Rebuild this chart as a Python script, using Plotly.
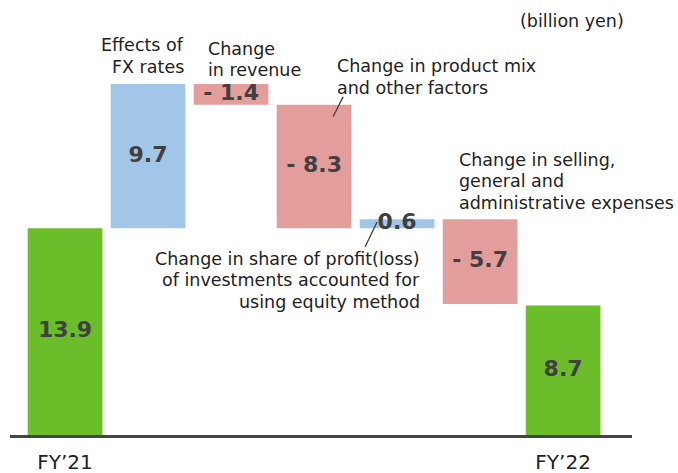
import numpy as np
import plotly.graph_objects as go

# ---- data -------------------------------------------------------------
steps = [
    "FY’21",
    "Effects of FX rates",
    "Change in revenue",
    "Change in product mix and other factors",
    "Change in share of profit(loss) of investments accounted for using equity method",
    "Change in selling, general and administrative expenses",
    "FY’22",
]
measures = ["absolute", "relative", "relative", "relative", "relative", "relative", "absolute"]
values = [13.9, 9.7, -1.4, -8.3, 0.6, -5.7, 8.7]
tick_labels = ["FY’21", "FY’22"]
unit_label = "(billion yen)"

# ---- derived geometry of each bar (bottom / top) ----------------------
bottoms, tops = [], []
running = 0.0
for m, v in zip(measures, values):
    if m == "absolute":
        lo, hi = 0.0, v
        running = v
    else:
        lo, hi = sorted([running, running + v])
        running += v
    bottoms.append(lo)
    tops.append(hi)
centers = (np.array(bottoms) + np.array(tops)) / 2


def fmt(m, v):
    if m == "relative" and v < 0:
        return f"- {abs(v):.1f}"
    return f"{v:.1f}"


labels = [fmt(m, v) for m, v in zip(measures, values)]
xs = list(range(len(values)))

GREEN = "#6bbd2a"
BLUE = "#a2c6e8"
PINK = "#e39e9c"
FONT = "DejaVu Sans"

fig = go.Figure()
fig.add_trace(go.Waterfall(
    x=xs, y=values, measure=measures, base=0, width=0.9,
    totals=dict(marker=dict(color=GREEN, line=dict(width=0))),
    increasing=dict(marker=dict(color=BLUE, line=dict(width=0))),
    decreasing=dict(marker=dict(color=PINK, line=dict(width=0))),
    connector=dict(visible=False),
    textinfo="none", hoverinfo="skip", showlegend=False,
))

# value labels at the middle of each bar
fig.add_trace(go.Scatter(
    x=xs, y=centers, mode="text", text=labels,
    textposition="middle center",
    textfont=dict(family=FONT, size=22, color="#404040", weight="bold"),
    hoverinfo="skip", showlegend=False,
))

# callout text, one annotation per line
callouts = [
    # (lines, x, y of first line, anchor)
    (["Effects of", "FX rates"], 1.46, 26.2, "right"),
    (["Change", "in revenue"], 1.695, 25.95, "left"),
    (["Change in product mix", "and other factors"], 3.253, 24.8, "left"),
    (["Change in selling,", "general and", "administrative expenses"], 4.727, 18.5, "left"),
    (["Change in share of profit(loss)", "of investments accounted for",
      "using equity method"], 4.30, 11.84, "right"),
]
LINE_STEP = 1.44  # vertical spacing between lines, in data units
annotations = []
for lines, x0, y0, anchor in callouts:
    for i, line in enumerate(lines):
        annotations.append(dict(
            x=x0, y=y0 - i * LINE_STEP, xref="x", yref="y", text=line,
            showarrow=False, xanchor=anchor, yanchor="middle",
            font=dict(family=FONT, size=17.5, color="#222222"),
        ))
annotations.append(dict(
    x=6.76, y=27.8, xref="x", yref="y", text=unit_label, showarrow=False,
    xanchor="right", yanchor="middle",
    font=dict(family=FONT, size=17.5, color="#222222"),
))

# leader lines from labels to bars
shapes = [
    dict(type="line", xref="x", yref="y", x0=3.614, y0=12.64, x1=3.759, y1=14.32,
         line=dict(color="#404040", width=1.3)),
    dict(type="line", xref="x", yref="y", x0=3.229, y0=21.39, x1=3.349, y1=22.73,
         line=dict(color="#404040", width=1.3)),
]

fig.update_layout(
    width=678, height=473,
    margin=dict(l=10, r=46, t=20, b=38, pad=0, autoexpand=False),
    paper_bgcolor="white", plot_bgcolor="white",
    annotations=annotations, shapes=shapes,
    xaxis=dict(
        range=[-0.663, 6.83], showgrid=False, zeroline=False,
        showline=True, linecolor="#454545", linewidth=3,
        tickvals=[0, len(values) - 1], ticktext=tick_labels,
        ticks="", ticklabelstandoff=7, automargin=False,
        tickfont=dict(family=FONT, size=20, color="#222222"),
        fixedrange=True,
    ),
    yaxis=dict(range=[0, 27.9], visible=False, fixedrange=True, automargin=False),
)

fig.write_html("out.html")
